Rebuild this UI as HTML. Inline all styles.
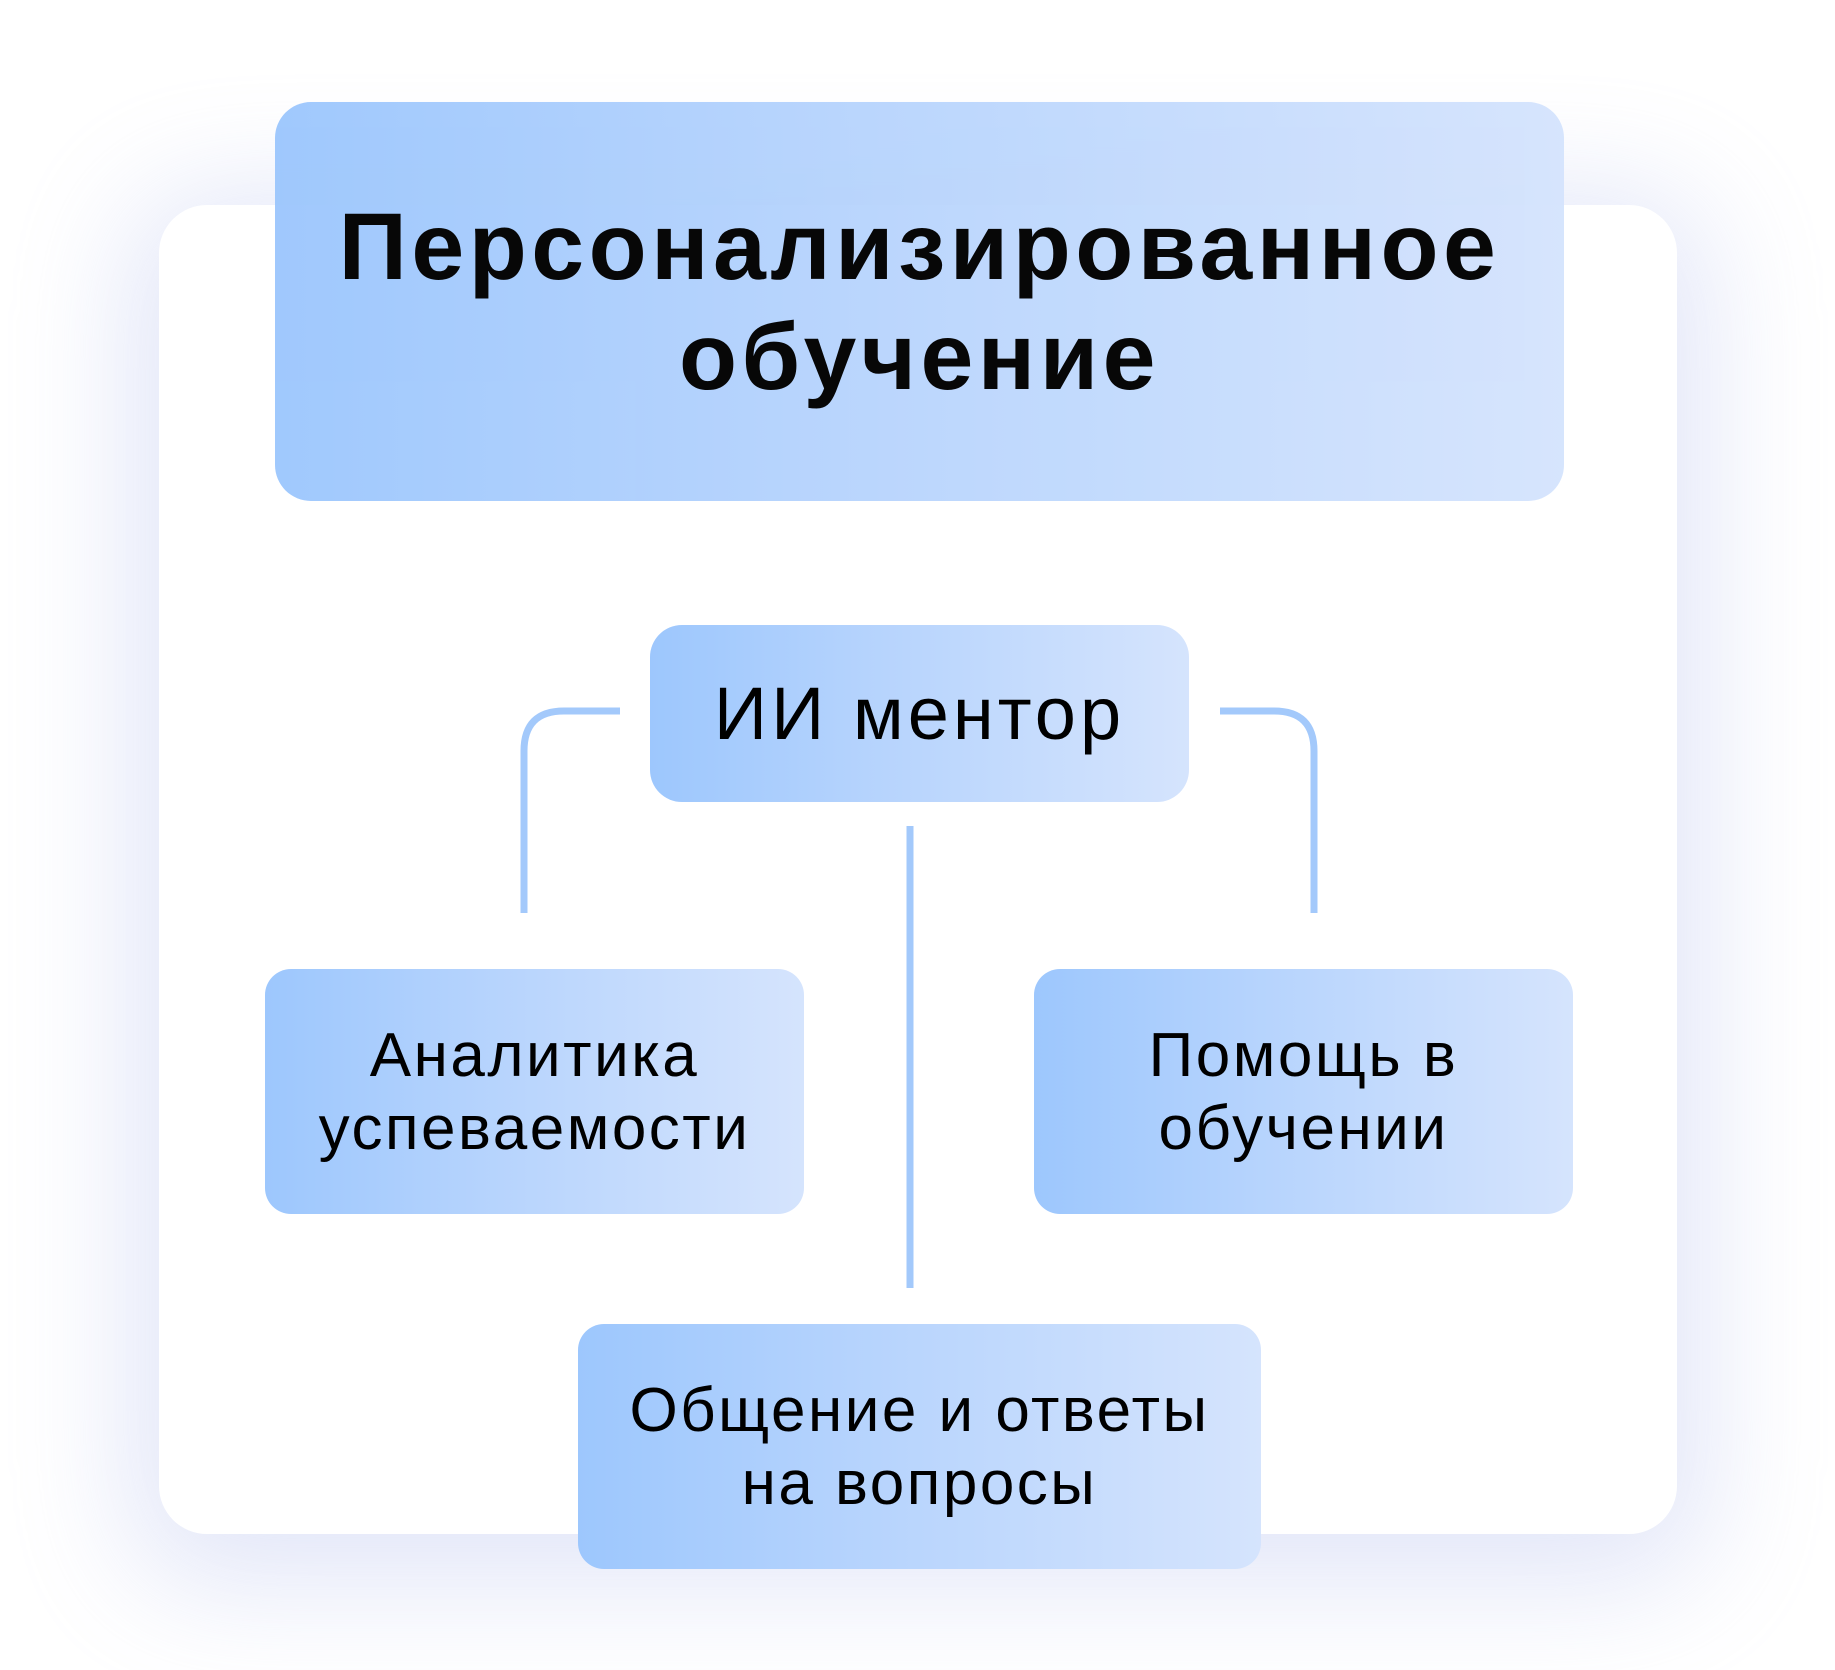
<!DOCTYPE html>
<html><head><meta charset="utf-8"><style>
html,body{margin:0;padding:0;width:1835px;height:1670px;background:#fff;overflow:hidden;font-family:"Liberation Sans","DejaVu Sans",sans-serif;}
.card{position:absolute;left:159px;top:205px;width:1518px;height:1329px;background:#fff;border-radius:48px;box-shadow:0 20px 120px 30px rgba(190,200,240,0.45);}
.box{position:absolute;background:linear-gradient(90deg,#9dc7fd 0%,#b5d3fd 40%,#d5e4fd 100%);display:flex;align-items:center;justify-content:center;text-align:center;color:#000;}
.t{left:275px;top:102px;width:1289px;height:399px;border-radius:36px;font-weight:bold;font-size:95px;line-height:110px;letter-spacing:4.5px;opacity:0.97;}
.m{left:650px;top:625px;width:539px;height:177px;border-radius:32px;font-size:74px;letter-spacing:4px;}
.s{border-radius:26px;font-size:62px;line-height:73px;letter-spacing:2.5px;}
</style></head><body>
<div class="card"></div>
<svg style="position:absolute;left:0;top:0" width="1835" height="1670">
<g fill="none" stroke="#a3c9fb" stroke-width="7">
<path d="M620 711 H564 Q524 711 524 751 V913"/>
<path d="M1220 711 H1274 Q1314 711 1314 751 V913"/>
<path d="M910 826 V1288"/>
</g></svg>
<div class="box t">Персонализированное<br>обучение</div>
<div class="box m">ИИ ментор</div>
<div class="box s" style="left:265px;top:969px;width:539px;height:245px;">Аналитика<br>успеваемости</div>
<div class="box s" style="left:1034px;top:969px;width:539px;height:245px;">Помощь в<br>обучении</div>
<div class="box s" style="left:578px;top:1324px;width:683px;height:245px;">Общение и ответы<br>на вопросы</div>
</body></html>
